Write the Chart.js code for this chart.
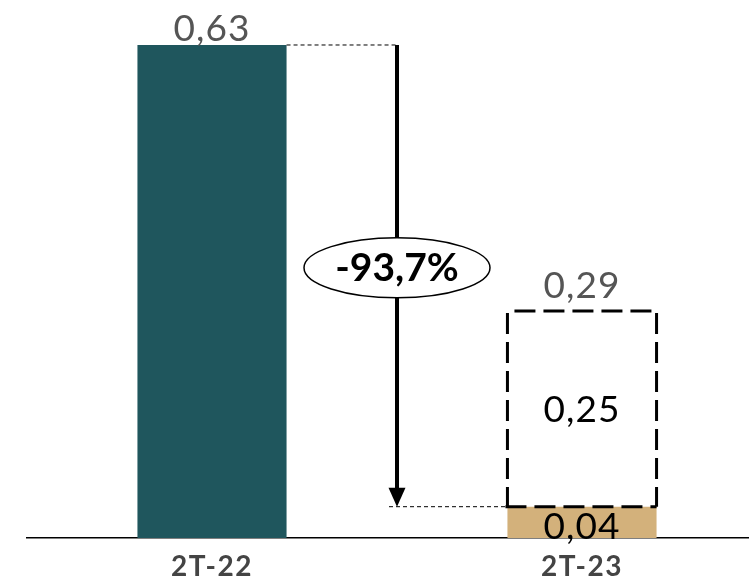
<!DOCTYPE html>
<html>
<head>
<meta charset="utf-8">
<script src="https://cdn.jsdelivr.net/npm/chart.js@4/dist/chart.umd.min.js"></script>
<style>
    html, body { margin: 0; padding: 0; background: #fff; overflow: hidden; }
    #wrap { position: absolute; left: 0; top: 0; width: 767px; height: 582px; }
</style>
</head>
<body>
<div id="wrap"><canvas id="chart"></canvas></div>
<script>
const categories = ['2T-22', '2T-23'];
const prevValues = [0.63, null];
const baseValues = [null, 0.04];
const gapValues = [null, 0.25];
const totals = [0.63, 0.29];
const changeLabel = '-93,7%';

const fmt = v => v.toFixed(2).replace('.', ',');

// wider tick text, like the original typeface
const spacing = {
    id: 'spacing',
    beforeDraw(chart) { chart.ctx.letterSpacing = '1.5px'; }
};

const overlay = {
    id: 'overlay',
    afterDatasetsDraw(chart) {
        const ctx = chart.ctx;
        const y = chart.scales.y;
        const x = chart.scales.x;
        const bar1 = chart.getDatasetMeta(0).data[0];
        const base = chart.getDatasetMeta(1).data[1];
        const gap = chart.getDatasetMeta(2).data[1];
        ctx.save();
        ctx.letterSpacing = '0px';

        // dashed outline of the missing part
        const gl = gap.x - gap.width / 2, gr = gap.x + gap.width / 2;
        ctx.strokeStyle = '#000';
        ctx.lineWidth = 3;
        ctx.setLineDash([21, 8]);
        ctx.beginPath();
        ctx.moveTo(gl + 7, gap.y); ctx.lineTo(gr, gap.y);
        ctx.moveTo(gr, gap.y + 2); ctx.lineTo(gr, gap.base);
        ctx.moveTo(gl, gap.y + 2); ctx.lineTo(gl, gap.base);
        ctx.moveTo(gl - 2, gap.base); ctx.lineTo(gr, gap.base);
        ctx.stroke();

        // dotted guide lines
        const ax = (x.getPixelForValue(0) + x.getPixelForValue(1)) / 2;
        const yTop = y.getPixelForValue(totals[0]);
        const yLow = y.getPixelForValue(baseValues[1]);
        ctx.lineWidth = 1;
        ctx.setLineDash([4, 3]);
        ctx.beginPath();
        ctx.moveTo(bar1.x + bar1.width / 2, yTop);
        ctx.lineTo(ax, yTop);
        ctx.moveTo(ax - 8, yLow);
        ctx.lineTo(gl, yLow);
        ctx.stroke();

        // arrow
        ctx.setLineDash([]);
        ctx.lineWidth = 4;
        ctx.beginPath();
        ctx.moveTo(ax, yTop);
        ctx.lineTo(ax, yLow - 16);
        ctx.stroke();
        ctx.fillStyle = '#000';
        ctx.beginPath();
        ctx.moveTo(ax - 8.5, yLow - 19);
        ctx.lineTo(ax + 8.5, yLow - 19);
        ctx.lineTo(ax, yLow);
        ctx.closePath();
        ctx.fill();

        // ellipse with change
        const ey = (yTop + yLow) / 2 - 8;
        ctx.fillStyle = '#fff';
        ctx.lineWidth = 1.5;
        ctx.beginPath();
        ctx.ellipse(ax, ey, 93, 30, 0, 0, Math.PI * 2);
        ctx.fill();
        ctx.stroke();
        ctx.fillStyle = '#000';
        ctx.font = 'bold 39px Lato';
        ctx.textAlign = 'center';
        ctx.textBaseline = 'middle';
        ctx.fillText(changeLabel, ax, ey + 1);

        // value labels
        ctx.font = '37px Lato';
        ctx.letterSpacing = '1px';
        ctx.textBaseline = 'alphabetic';
        ctx.fillStyle = '#555';
        ctx.fillText(fmt(totals[0]), bar1.x, bar1.y - 4);
        ctx.fillText(fmt(totals[1]), gap.x, gap.y - 13);
        ctx.fillStyle = '#000';
        ctx.fillText(fmt(gapValues[1]), gap.x, (gap.y + gap.base) / 2 + 13);
        ctx.fillText(fmt(baseValues[1]), base.x, base.base + 1);
        ctx.restore();
    }
};

new Chart(document.getElementById('chart').getContext('2d'), {
    type: 'bar',
    data: {
        labels: categories,
        datasets: [
            { data: prevValues, backgroundColor: '#1f565d' },
            { data: baseValues, backgroundColor: '#d3b17b' },
            { data: gapValues, backgroundColor: 'rgba(255,255,255,0)' }
        ]
    },
    options: {
        responsive: true,
        maintainAspectRatio: false,
        animation: false,
        datasets: { bar: { barPercentage: 1, categoryPercentage: 0.403 } },
        layout: { padding: { left: 27, right: 0, top: 0, bottom: 0 } },
        plugins: { legend: { display: false }, tooltip: { enabled: false } },
        scales: {
            x: {
                stacked: true,
                grid: { display: false, drawTicks: false },
                border: { display: true, color: '#000', width: 1.5 },
                ticks: { color: '#444', padding: 12, font: { family: 'Lato', size: 28, weight: 'bold' } },
                afterFit: scale => { scale.height = 44; }
            },
            y: {
                stacked: true,
                display: false,
                min: 0,
                max: 0.6875
            }
        }
    },
    plugins: [spacing, overlay]
});
</script>
</body>
</html>
